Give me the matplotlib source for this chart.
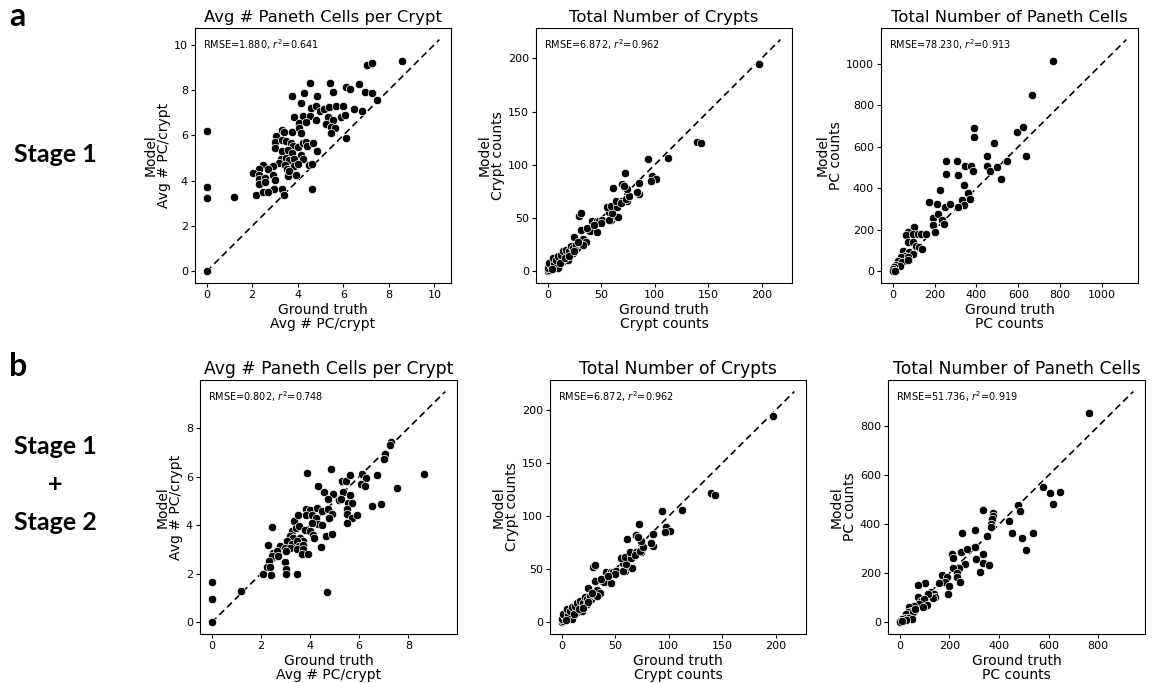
import matplotlib
matplotlib.use("Agg")
import matplotlib.pyplot as plt
import numpy as np

# ---- data ----
# a: Stage 1, avg # PC / crypt
avg_s1 = [(0, 0), (0, 3.25), (0, 3.7), (0, 6.2), (1.2, 3.3),
          (7.04, 9.1), (7.27, 9.2), (8.57, 9.29), (4.54, 8.29), (5.41, 8.29), (3.74, 7.74), (4.28, 7.88),
          (4.86, 7.74), (5.56, 7.89), (6.1, 8.11), (6.29, 8.04), (6.68, 8.25), (6.97, 7.92), (7.27, 7.85),
          (7.5, 7.55), (4.13, 7.41), (4.57, 7.19), (4.79, 7.29), (4.98, 7.07), (5.15, 7.14), (5.37, 7.26),
          (5.66, 7.29), (5.98, 7.29), (6.46, 7.14), (6.83, 7.07), (3.84, 6.79), (4.21, 6.85), (4.54, 6.85),
          (4.79, 6.67), (5.34, 6.79), (5.55, 6.67), (5.88, 6.79), (6.07, 6.89), (4.06, 6.55), (4.38, 6.59),
          (5.25, 6.49), (5.45, 6.35), (5.63, 6.3), (5.45, 6.08), (6.13, 5.88), (3.31, 6.23), (3.41, 6.15),
          (3.77, 6.15), (3.04, 5.96), (4.06, 6.3), (4.13, 6.08), (3.0, 5.71), (3.33, 5.78), (3.48, 5.74),
          (3.01, 5.46), (3.7, 5.68), (3.81, 5.52), (3.99, 5.49), (4.21, 5.64), (4.35, 5.71), (4.42, 5.52),
          (4.69, 5.64), (4.86, 5.3), (3.33, 5.3), (3.59, 5.37), (3.74, 5.22), (4.13, 5.12), (4.21, 4.97),
          (3.26, 4.94), (3.48, 5.02), (3.62, 4.93), (3.84, 4.97), (3.19, 4.78), (2.93, 4.63), (3.45, 4.68),
          (3.51, 4.53), (3.84, 4.63), (4.03, 4.72), (4.5, 4.68), (4.64, 4.75), (2.46, 4.68), (2.31, 4.53),
          (2.68, 4.53), (2.05, 4.34), (2.31, 4.23), (2.28, 4.09), (2.58, 4.13), (2.93, 4.23), (3.01, 4.04),
          (3.59, 4.19), (3.62, 4.42), (3.94, 4.23), (2.31, 3.84), (2.58, 3.94), (2.97, 3.65), (3.33, 3.65),
          (2.17, 3.39), (2.46, 3.5), (2.7, 3.5), (3.41, 3.35), (4.64, 3.65)]

# b: Stage 1 + Stage 2, avg # PC / crypt
avg_s2 = [(0, 0), (0, 0.95), (0, 1.65), (1.2, 1.3),
          (7.3, 7.42), (7.25, 7.3), (7.05, 6.92), (7.0, 6.74), (8.64, 6.13), (3.86, 6.15), (4.85, 6.32),
          (5.29, 5.84), (5.45, 5.84), (5.63, 6.06), (6.1, 6.09), (6.28, 5.95), (6.71, 6.06), (6.06, 5.68),
          (6.24, 5.61), (7.53, 5.54), (4.34, 5.61), (4.57, 5.37), (4.92, 5.27), (4.74, 5.1), (5.19, 5.02),
          (5.35, 5.37), (5.63, 5.24), (5.25, 5.1), (5.56, 4.92), (5.7, 4.92), (6.51, 4.79), (6.89, 4.86),
          (5.49, 4.65), (5.52, 4.45), (5.7, 4.28), (5.92, 4.42), (5.52, 4.1), (3.84, 4.65), (4.0, 4.61),
          (4.27, 4.72), (4.47, 4.58), (4.74, 4.65), (4.88, 4.47), (4.78, 4.31), (3.84, 4.42), (4.07, 4.42),
          (4.24, 4.28), (3.36, 4.17), (3.52, 4.42), (4.34, 4.04), (4.47, 4.01), (4.07, 4.1), (2.44, 3.93),
          (3.25, 3.76), (3.43, 3.87), (3.56, 3.97), (3.8, 3.79), (4.0, 3.76), (4.13, 3.6), (4.17, 3.49),
          (4.65, 3.56), (4.88, 3.65), (3.19, 3.56), (3.32, 3.46), (3.59, 3.49), (3.73, 3.35), (3.08, 3.35),
          (3.25, 3.22), (3.46, 3.35), (3.56, 3.15), (3.73, 3.19), (2.78, 3.15), (2.98, 3.08), (3.19, 3.08),
          (3.46, 3.01), (3.73, 3.01), (4.43, 3.1), (2.3, 3.19), (2.51, 2.87), (2.64, 2.94), (3.02, 2.94),
          (2.44, 2.74), (2.71, 2.74), (3.66, 2.81), (3.93, 2.81), (2.34, 2.53), (2.98, 2.5), (2.24, 2.29),
          (2.37, 2.29), (3.02, 2.22), (2.1, 1.99), (2.4, 1.94), (3.02, 1.99), (3.46, 1.99), (4.68, 1.27)]

# crypt counts (same in a and b)
crypts = [(0, 0), (1.5, 0.9), (0, 3.2), (3.1, 4.7), (1.5, 7.9), (6.1, 4.7), (10.8, 6.3), (9.3, 3.2),
          (6.1, 7.9), (4.7, 12.6), (7.7, 11), (9.3, 14.1), (15.4, 12.6), (14, 9.4), (18.6, 11), (12.4, 15.7),
          (18.6, 15.7), (14, 18.8), (17, 20.5), (20.1, 18.8), (23.3, 17.3), (21.7, 23.6), (23.3, 22.1),
          (27.9, 22.1), (26.3, 25.2), (29.4, 26.8), (33.1, 30.5), (35.6, 27.3), (33.1, 25.2), (24.7, 32.4),
          (31, 39.3), (29.4, 51.8), (31, 54.4), (39.6, 37.7), (46.5, 37.1), (41.9, 47.1), (44.9, 45.6),
          (46.5, 47.1), (48, 47.1), (51.2, 48.7), (49.6, 45.6), (58.9, 48.7), (62, 51.8), (57.3, 48.7),
          (66, 51.3), (57.3, 55.6), (60.5, 55), (55.8, 60.7), (58.9, 61.3), (65.1, 60.7), (64.2, 66),
          (69.8, 66), (74.4, 66), (68.2, 63.8), (72.8, 67.6), (75.9, 70.7), (61.4, 78.6), (69.1, 82.4),
          (73.8, 77), (71.3, 80.1), (72.2, 92.7), (85.2, 83.3), (85.2, 72.3), (83.7, 74.5), (94, 105.3),
          (97.7, 89.5), (101.4, 86.4), (97, 84.8), (112.2, 106.2), (139.5, 121.6), (143.3, 120.1),
          (197.8, 194.8), (4, 2), (12, 8), (16, 13), (20, 14), (25, 19), (28, 28), (37, 41), (43, 44)]

# a: Stage 1, PC counts
pc_s1 = [(765, 1014), (664, 850), (389, 689), (387, 648), (592, 672), (621, 697), (483, 619), (636, 555),
         (448, 555), (547, 532), (256, 531), (307, 531), (344, 507), (376, 507), (384, 482), (253, 471),
         (312, 463), (448, 507), (464, 484), (499, 503), (517, 447), (224, 390), (341, 415), (360, 377),
         (368, 350), (333, 342), (341, 318), (312, 310), (173, 334), (211, 326), (250, 310), (275, 326),
         (192, 258), (216, 274), (237, 249), (245, 229), (192, 221), (200, 189), (104, 213), (72, 189),
         (64, 173), (96, 181), (120, 181), (136, 178), (160, 181), (72, 140), (96, 140), (112, 124),
         (128, 116), (141, 108), (48, 100), (80, 92), (96, 84), (61, 76), (40, 68), (72, 68), (24, 52),
         (45, 44), (72, 55), (16, 32), (35, 28), (8, 19), (0, 12), (0, 0), (13, 3)]

# b: Stage 1 + Stage 2, PC counts
pc_s2 = [(763, 856), (577, 554), (606, 527), (645, 530), (619, 482), (476, 478), (485, 455), (334, 458),
         (378, 448), (378, 435), (374, 421), (370, 401), (367, 390), (439, 412), (452, 364), (492, 346),
         (538, 363), (509, 296), (252, 364), (304, 376), (351, 353), (210, 281), (216, 262), (249, 289),
         (273, 299), (304, 306), (306, 258), (337, 279), (334, 244), (361, 235), (324, 204), (262, 240),
         (240, 222), (216, 222), (233, 200), (230, 186), (243, 163), (170, 194), (190, 186), (181, 166),
         (160, 159), (197, 150), (194, 116), (102, 159), (75, 152), (125, 126), (138, 118), (144, 105),
         (135, 99), (115, 116), (72, 105), (85, 88), (98, 95), (111, 72), (76, 75), (59, 68), (39, 61),
         (46, 48), (33, 41), (26, 34), (20, 20), (11, 14), (3, 4), (52, 41), (63, 55), (92, 64), (37, 20),
         (50, 14), (24, 10), (0, 0), (10, 5)]

TITLES = ["Avg # Paneth Cells per Crypt", "Total Number of Crypts", "Total Number of Paneth Cells"]
UNITS = ["Avg # PC/crypt", "Crypt counts", "PC counts"]
STATS_S1 = ["RMSE=1.880, $r^2$=0.641", "RMSE=6.872, $r^2$=0.962", "RMSE=78.230, $r^2$=0.913"]
STATS_S2 = ["RMSE=0.802, $r^2$=0.748", "RMSE=6.872, $r^2$=0.962", "RMSE=51.736, $r^2$=0.919"]

W, H = 1152, 683
fig = plt.figure(figsize=(W / 100, H / 100), dpi=100)

# axes boxes in pixels: (left, top, width, height)
BOXES = [
    [(195, 28, 256, 255), (536, 28, 256, 255), (881, 28, 257, 255)],
    [(200, 380, 257, 254), (550, 380, 256, 254), (888, 380, 257, 254)],
]
TITLE_SIZE = [11.8, 12.3]


def scatter_panel(ax, pts, title, unit, stat, tsize):
    gt = np.array([p[0] for p in pts], float)
    pred = np.array([p[1] for p in pts], float)
    lim = 1.1 * max(gt.max(), pred.max())
    ax.scatter(gt, pred, s=36, c="black", edgecolors="white", linewidths=0.5, zorder=3)
    ax.plot([0, lim], [0, lim], "k--", lw=1.2, dashes=(4, 2.5), zorder=2)
    ax.set_xlim(-0.05 * lim, 1.05 * lim)
    ax.set_ylim(-0.05 * lim, 1.05 * lim)
    ax.set_title(title, fontsize=tsize, pad=4)
    ax.set_xlabel("Ground truth\n" + unit, fontsize=10, labelpad=2, linespacing=1.0)
    ax.set_ylabel("Model\n" + unit, fontsize=10, labelpad=2, linespacing=1.0)
    ax.tick_params(labelsize=8, length=3, pad=2)
    ax.text(0.03, 0.965, stat, transform=ax.transAxes, fontsize=7, va="top", ha="left")


panels = [[avg_s1, crypts, pc_s1], [avg_s2, crypts, pc_s2]]
stats = [STATS_S1, STATS_S2]
for r in range(2):
    for c in range(3):
        l, t, w, h = BOXES[r][c]
        ax = fig.add_axes([l / W, 1 - (t + h) / H, w / W, h / H])
        scatter_panel(ax, panels[r][c], TITLES[c], UNITS[c], stats[r][c], TITLE_SIZE[r])

# row labels
lab = dict(family=["Lato", "DejaVu Sans"], fontweight="bold", color="black")
fig.text(9 / W, 1 - 17 / H, "a", fontsize=23, va="center", ha="left", **lab)
fig.text(9 / W, 1 - 366 / H, "b", fontsize=23, va="center", ha="left", **lab)
fig.text(55 / W, 1 - 155 / H, "Stage 1", fontsize=18, va="center", ha="center", **lab)
for yy, s in zip([447, 485, 523], ["Stage 1", "+", "Stage 2"]):
    fig.text(55 / W, 1 - yy / H, s, fontsize=18, va="center", ha="center", **lab)

fig.savefig("out.png", dpi=100)
